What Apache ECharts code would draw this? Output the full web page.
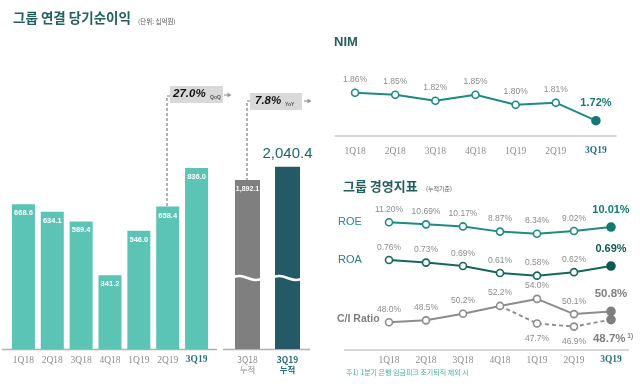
<!DOCTYPE html>
<html><head><meta charset="utf-8">
<script src="https://cdn.jsdelivr.net/npm/echarts@6/dist/echarts.min.js"></script>
<style>html,body{margin:0;padding:0;background:#fff}#c{width:640px;height:388px}</style>
</head><body><div id="c"></div>
<script>
const quarters = ['1Q18','2Q18','3Q18','4Q18','1Q19','2Q19','3Q19'];
const netIncome = [668.6, 634.1, 589.4, 341.2, 546.0, 658.4, 836.0];
const cumCats = ['3Q18\n누적', '3Q19\n누적'];
const cumIncome = [1892.1, 2040.4];
const nim = [1.86, 1.85, 1.82, 1.85, 1.80, 1.81, 1.72];
const roe = [11.20, 10.69, 10.17, 8.87, 8.34, 9.02, 10.01];
const roa = [0.76, 0.73, 0.69, 0.61, 0.58, 0.62, 0.69];
const ciRatio = [48.0, 48.5, 50.2, 52.2, 54.0, 50.1, 50.8];
const ciAdj = [null, null, null, 52.2, 47.7, 46.9, 48.7];
const qoqText = '27.0%';
const yoyText = '7.8%';

const SANS = "'Liberation Sans', Arial, sans-serif";
const KR = "'Noto Sans CJK KR', sans-serif";
const SERIF = "'Liberation Serif', serif";
const TEAL = '#5bc4b5', DARK = '#235a66', GRAYBAR = '#7f7f7f';
const NIMC = '#1e8a83', ROAC = '#15665d', CIC = '#8c8c8c', LBL = '#8c8c8c';
const TITLEC = '#22605e';

const chart = echarts.init(document.getElementById('c'), null, {renderer: 'canvas'});

function lastBig(arr, color, size) {
  return arr.map((v, i) => {
    if (v === null) return null;
    if (i === arr.length - 1) {
      return {value: v, symbolSize: 8,
        itemStyle: {color: color, borderColor: color},
        label: {color: color, fontSize: size, fontWeight: 'bold', distance: 7}};
    }
    return v;
  });
}
function qLabels(boldColor) {
  return {
    interval: 0,
    fontFamily: SERIF, fontSize: 9.5, color: '#8c8c8c',
    formatter: (v) => v === '3Q19' ? '{b|' + v + '}' : v,
    rich: {b: {fontFamily: SERIF, fontSize: 9.5, fontWeight: 'bold', color: boldColor}}
  };
}
const lineCommon = {
  type: 'line', symbol: 'circle', symbolSize: 7, lineStyle: {width: 2},
  label: {show: true, position: 'top', distance: 4, fontFamily: SANS, fontSize: 8.5, color: LBL}
};

const option = {
  animation: false,
  grid: [
    {left: 9, top: 132.5, width: 202, height: 216.5},
    {left: 227.5, top: 132.5, width: 80, height: 216.5},
    {left: 335, top: 84.7, width: 281, height: 51.3},
    {left: 370.5, top: 207.1, width: 259, height: 40},
    {left: 370.5, top: 247.8, width: 259, height: 43.5},
    {left: 370.5, top: 275.5, width: 259, height: 74.5}
  ],
  xAxis: [
    {gridIndex: 0, type: 'category', data: quarters, axisLine: {show: false}, axisTick: {show: false},
      axisLabel: Object.assign({margin: 6}, qLabels('#2a6f80'))},
    {gridIndex: 1, type: 'category', data: cumCats, axisLine: {show: false}, axisTick: {show: false},
      axisLabel: {interval: 0, margin: 6, fontFamily: KR, fontSize: 8.5, lineHeight: 10, color: '#8c8c8c',
        formatter: (v, i) => i === 1 ? v.split('\n').map(s => '{b|' + s + '}').join('\n') : v,
        rich: {b: {fontFamily: KR, fontSize: 8.5, fontWeight: 'bold', color: '#2a6f80', lineHeight: 10}}}},
    {gridIndex: 2, type: 'category', data: quarters, axisLine: {show: true, lineStyle: {color: '#c8c8c8', width: 1.5}},
      axisTick: {show: false}, axisLabel: Object.assign({margin: 10}, qLabels('#2a6f80'))},
    {gridIndex: 3, type: 'category', data: quarters, show: false},
    {gridIndex: 4, type: 'category', data: quarters, show: false},
    {gridIndex: 5, type: 'category', data: quarters, axisLine: {show: false}, axisTick: {show: false},
      axisLabel: Object.assign({margin: 5}, qLabels('#2a6f80'))}
  ],
  yAxis: [
    {gridIndex: 0, type: 'value', min: 0, max: 1000, show: false},
    {gridIndex: 1, type: 'value', min: 0, max: 2424, show: false},
    {gridIndex: 2, type: 'value', min: 1.6435, max: 1.9, show: false},
    {gridIndex: 3, type: 'value', min: 5, max: 15, show: false},
    {gridIndex: 4, type: 'value', min: 0.4, max: 0.9, show: false},
    {gridIndex: 5, type: 'value', min: 40.9, max: 60, show: false}
  ],
  series: [
    {type: 'bar', xAxisIndex: 0, yAxisIndex: 0, data: netIncome, barWidth: 23,
      itemStyle: {color: TEAL},
      label: {show: true, position: 'insideTop', distance: 5, color: '#fff', fontFamily: SANS,
        fontSize: 7.5, fontWeight: 'bold', formatter: (p) => p.value.toFixed(1)}},
    {type: 'bar', xAxisIndex: 1, yAxisIndex: 1, barWidth: 25,
      data: cumIncome.map((v, i) => i === 0
        ? {value: v, itemStyle: {color: GRAYBAR},
            label: {position: 'insideTop', distance: 6, color: '#fff', fontSize: 7, fontWeight: 'bold'}}
        : {value: v, itemStyle: {color: DARK},
            label: {position: 'top', distance: 5, color: '#1d6470', fontSize: 15}}),
      label: {show: true, fontFamily: SANS,
        formatter: (p) => p.value.toLocaleString('en-US', {minimumFractionDigits: 1, maximumFractionDigits: 1})}},
    Object.assign({}, lineCommon, {xAxisIndex: 2, yAxisIndex: 2, data: lastBig(nim, '#127a72', 11),
      lineStyle: {width: 2, color: NIMC}, itemStyle: {color: '#fff', borderColor: NIMC, borderWidth: 1.6},
      label: Object.assign({}, lineCommon.label, {formatter: (p) => p.value.toFixed(2) + '%'})}),
    Object.assign({}, lineCommon, {xAxisIndex: 3, yAxisIndex: 3, data: lastBig(roe, '#127a72', 11),
      lineStyle: {width: 2, color: NIMC}, itemStyle: {color: '#fff', borderColor: NIMC, borderWidth: 1.6},
      label: Object.assign({}, lineCommon.label, {formatter: (p) => p.value.toFixed(2) + '%'})}),
    Object.assign({}, lineCommon, {xAxisIndex: 4, yAxisIndex: 4, data: lastBig(roa, '#0f5a50', 11),
      lineStyle: {width: 2, color: ROAC}, itemStyle: {color: '#fff', borderColor: ROAC, borderWidth: 1.6},
      label: Object.assign({}, lineCommon.label, {formatter: (p) => p.value.toFixed(2) + '%'})}),
    Object.assign({}, lineCommon, {xAxisIndex: 5, yAxisIndex: 5, data: lastBig(ciRatio, '#7f7f7f', 11.5),
      lineStyle: {width: 2, color: CIC}, itemStyle: {color: '#fff', borderColor: CIC, borderWidth: 1.6},
      label: Object.assign({}, lineCommon.label, {formatter: (p) => p.value.toFixed(1) + '%'})}),
    Object.assign({}, lineCommon, {xAxisIndex: 5, yAxisIndex: 5, z: 1,
      data: ciAdj.map((v, i) => {
        if (v === null) return null;
        if (i === 3) return {value: v, symbol: 'none', label: {show: false}};
        if (i === ciAdj.length - 1) return {value: v, symbolSize: 8, itemStyle: {color: '#7f7f7f', borderColor: '#7f7f7f'},
          label: {distance: 8, fontSize: 11.5, fontWeight: 'bold', color: '#7f7f7f', offset: [2, 0],
            formatter: (p) => '{b|' + p.value.toFixed(1) + '%}{s| 1)}',
            rich: {b: {fontFamily: SANS, fontSize: 11.5, fontWeight: 'bold', color: '#7f7f7f'},
                   s: {fontFamily: SANS, fontSize: 6.5, color: '#7f7f7f', padding: [0, 0, 6, 0]}}}};
        return v;
      }),
      lineStyle: {width: 1.8, color: CIC, type: [4, 3]}, itemStyle: {color: '#fff', borderColor: CIC, borderWidth: 1.6},
      label: Object.assign({}, lineCommon.label, {position: 'bottom', distance: 6, formatter: (p) => p.value.toFixed(1) + '%'})})
  ],
  graphic: [
    {type: 'text', left: 13, top: 11, style: {text: '그룹 연결 당기순이익', fill: TITLEC, font: 'bold 13.5px ' + KR}},
    {type: 'text', left: 138, top: 18, style: {text: '(단위: 십억원)', fill: '#555', font: '6.5px ' + KR}},
    {type: 'text', left: 334, top: 36, style: {text: 'NIM', fill: TITLEC, font: 'bold 13px ' + SANS}},
    {type: 'text', left: 343, top: 180, style: {text: '그룹 경영지표', fill: TITLEC, font: 'bold 13px ' + KR}},
    {type: 'text', left: 426, top: 186, style: {text: '(누적기준)', fill: '#555', font: '6px ' + KR}},
    {type: 'text', left: 338, top: 216, style: {text: 'ROE', fill: '#2b8790', font: '11px ' + SANS}},
    {type: 'text', left: 338, top: 254, style: {text: 'ROA', fill: '#2b7d86', font: '11px ' + SANS}},
    {type: 'text', left: 337, top: 314, style: {text: 'C/I Ratio', fill: '#7f7f7f', font: 'bold 10.5px ' + SANS}},
    {type: 'text', left: 346, top: 369, style: {text: '주1) 1분기 은행 임금피크 조기퇴직 제외 시', fill: '#3db39f', font: '7px ' + KR}},
    {type: 'line', shape: {x1: 2, y1: 349.5, x2: 217, y2: 349.5}, style: {stroke: '#b0b0b0', lineWidth: 1.5}},
    {type: 'line', shape: {x1: 223, y1: 349.5, x2: 310, y2: 349.5}, style: {stroke: '#b0b0b0', lineWidth: 1.5}},
    {type: 'line', shape: {x1: 344, y1: 350, x2: 629, y2: 350}, style: {stroke: '#c8c8c8', lineWidth: 1.5}},
    {type: 'bezierCurve', z: 100, shape: {x1: 232, y1: 278, x2: 263, y2: 278, cpx1: 243, cpy1: 271, cpx2: 252, cpy2: 285},
      style: {stroke: '#fff', lineWidth: 2.5, fill: null}},
    {type: 'bezierCurve', z: 100, shape: {x1: 272, y1: 278, x2: 303, y2: 278, cpx1: 283, cpy1: 271, cpx2: 292, cpy2: 285},
      style: {stroke: '#fff', lineWidth: 2.5, fill: null}},
    {type: 'polyline', shape: {points: [[170, 96], [167, 96], [167, 206]]}, style: {stroke: '#7f7f7f', lineWidth: 1.2, lineDash: [3, 2], fill: null}},
    {type: 'rect', shape: {x: 170, y: 86, width: 53, height: 17}, style: {fill: '#d9d9d9'}},
    {type: 'text', left: 173, top: 88, style: {text: qoqText, fill: '#111', font: 'italic bold 11.5px ' + SANS}},
    {type: 'text', left: 210, top: 95, style: {text: 'QoQ', fill: '#555', font: 'bold 5px ' + SANS}},
    {type: 'line', shape: {x1: 224, y1: 95, x2: 228, y2: 95}, style: {stroke: '#999', lineWidth: 1.2}},
    {type: 'polygon', shape: {points: [[227.5, 92.5], [231.5, 95], [227.5, 97.5]]}, style: {fill: '#999'}},
    {type: 'polyline', shape: {points: [[250, 101], [247, 101], [247, 180]]}, style: {stroke: '#7f7f7f', lineWidth: 1.2, lineDash: [3, 2], fill: null}},
    {type: 'rect', shape: {x: 250, y: 93, width: 52, height: 17}, style: {fill: '#d9d9d9'}},
    {type: 'text', left: 255, top: 95, style: {text: yoyText, fill: '#111', font: 'italic bold 11.5px ' + SANS}},
    {type: 'text', left: 285, top: 102, style: {text: 'YoY', fill: '#555', font: 'bold 5px ' + SANS}},
    {type: 'line', shape: {x1: 304, y1: 101, x2: 308, y2: 101}, style: {stroke: '#999', lineWidth: 1.2}},
    {type: 'polygon', shape: {points: [[307.5, 98.5], [311.5, 101], [307.5, 103.5]]}, style: {fill: '#999'}}
  ]
};
chart.setOption(option);
</script></body></html>
